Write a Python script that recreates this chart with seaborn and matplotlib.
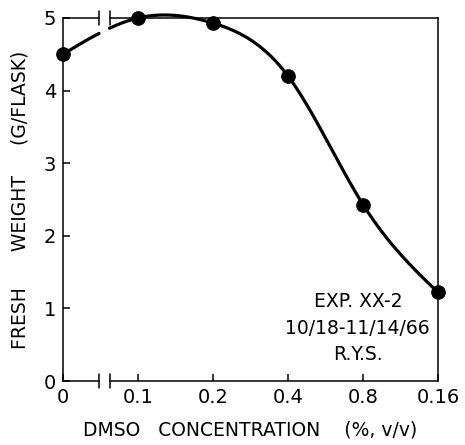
import numpy as np
import matplotlib
matplotlib.use("Agg")
import matplotlib.pyplot as plt
import seaborn as sns

# data
conc_labels = ["0", "0.1", "0.2", "0.4", "0.8", "0.16"]
fresh_weight = [4.5, 5.0, 4.93, 4.2, 2.43, 1.22]
note_lines = ["EXP. XX-2", "10/18-11/14/66", "R.Y.S."]

pos = np.arange(len(conc_labels), dtype=float)
w = np.array(fresh_weight)

BRK_L, BRK_R = 0.48, 0.62   # where the axis break sits


def natural_spline(x, y, xs):
    n = len(x)
    h = np.diff(x)
    A = np.zeros((n, n))
    b = np.zeros(n)
    A[0, 0] = A[-1, -1] = 1
    for i in range(1, n - 1):
        A[i, i - 1] = h[i - 1]
        A[i, i] = 2 * (h[i - 1] + h[i])
        A[i, i + 1] = h[i]
        b[i] = 6 * ((y[i + 1] - y[i]) / h[i] - (y[i] - y[i - 1]) / h[i - 1])
    M = np.linalg.solve(A, b)
    idx = np.clip(np.searchsorted(x, xs) - 1, 0, n - 2)
    x0, x1 = x[idx], x[idx + 1]
    hh = x1 - x0
    return (M[idx] * (x1 - xs) ** 3 / (6 * hh) + M[idx + 1] * (xs - x0) ** 3 / (6 * hh)
            + (y[idx] / hh - M[idx] * hh / 6) * (x1 - xs)
            + (y[idx + 1] / hh - M[idx + 1] * hh / 6) * (xs - x0))


sns.set_style("ticks")
plt.rcParams['font.family'] = ['DejaVu Sans']
plt.rcParams['text.color'] = 'black'
plt.rcParams['axes.labelcolor'] = 'black'
plt.rcParams['xtick.color'] = 'black'
plt.rcParams['ytick.color'] = 'black'

fig = plt.figure(figsize=(4.65, 4.45), dpi=100)
ax = fig.add_axes([0.1355, 0.1438, 0.8065, 0.8158])

# smooth curve, interrupted at the axis break
xs = np.linspace(BRK_R, pos[-1], 300)
sns.lineplot(x=xs, y=natural_spline(pos, w, xs), ax=ax, color="black", lw=2.3,
             sort=False, clip_on=False)
xl = np.linspace(pos[0], BRK_L, 30)
sns.lineplot(x=xl, y=natural_spline(pos, w, xl), ax=ax, color="black", lw=2.3,
             sort=False, clip_on=False)

sns.scatterplot(x=pos, y=w, ax=ax, color="black", s=95, edgecolor="black",
                zorder=5, clip_on=False)

ax.set_xlim(pos[0], pos[-1])
ax.set_ylim(0, 5)

# broken top/bottom spines
ax.spines["top"].set_visible(False)
ax.spines["bottom"].set_visible(False)
for yy in (0, 5):
    ax.plot([pos[0], BRK_L], [yy, yy], color="black", lw=1.1, clip_on=False)
    ax.plot([BRK_R, pos[-1]], [yy, yy], color="black", lw=1.1, clip_on=False)
    for xb in (BRK_L, BRK_R):
        ax.plot([xb, xb], [yy - 0.1, yy + 0.1], color="black", lw=1.1, clip_on=False)
for s in ("left", "right"):
    ax.spines[s].set_linewidth(1.1)
    ax.spines[s].set_color("black")

ax.set_xticks(pos)
ax.set_xticklabels(conc_labels, fontsize=14)
ax.set_yticks(range(6))
ax.set_yticklabels([str(i) for i in range(6)], fontsize=14)
ax.tick_params(direction="in", length=5, width=1.1, pad=5)

ax.set_xlabel("DMSO   CONCENTRATION    (%, v/v)", fontsize=13.5, labelpad=10)
ax.set_ylabel("FRESH      WEIGHT     (G/FLASK)", fontsize=13.5, labelpad=10)

for i, t in enumerate(note_lines):
    ax.text(3.93, 1.09 - i * 0.365, t, ha="center", va="center", fontsize=13.5)

fig.savefig("out.png", dpi=100)
